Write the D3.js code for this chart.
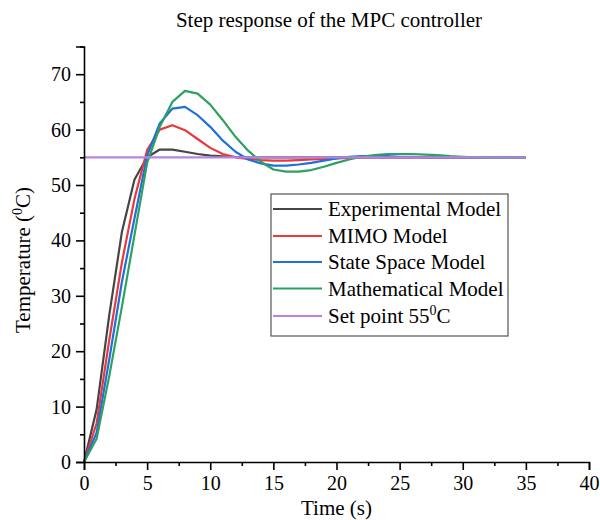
<!DOCTYPE html>
<html><head><meta charset="utf-8">
<script src="https://cdn.jsdelivr.net/npm/d3@7"></script>
<style>body{margin:0;background:#fff}svg{display:block}text{font-family:"Liberation Serif","Times New Roman",serif;fill:#000}</style>
</head><body>
<script>
const time = d3.range(0, 36);
const experimental = [0,9.5,26.5,41.5,51,55,56.4,56.4,56,55.6,55.3,55.15,55.05,55,55,55,55,55,55,55,55,55,55,55,55,55,55,55,55,55,55,55,55,55,55,55];
const mimo = [0,7,22,36,47.5,56.3,60,60.8,59.9,58.3,56.7,55.6,55,54.7,54.5,54.4,54.4,54.5,54.6,54.7,54.8,54.9,55,55,55,55,55,55,55,55,55,55,55,55,55,55];
const stateSpace = [0,5.3,18.5,32.5,44,55.3,61.1,63.8,64.1,62.6,60.5,58,56,54.6,53.9,53.5,53.5,53.7,54,54.4,54.8,55.1,55.2,55.2,55.2,55.1,55.1,55,55,55,55,55,55,55,55,55];
const mathematical = [0,4.2,15.5,28,41,54,60.5,65,67,66.5,64.5,61.7,58.7,56.2,54.2,52.8,52.4,52.4,52.7,53.3,54,54.6,55.1,55.4,55.6,55.6,55.6,55.5,55.4,55.2,55.1,55,54.9,54.9,54.9,54.9];
const setPoint = time.map(() => 55);
const seriesNames = ["Experimental Model","MIMO Model","State Space Model","Mathematical Model","Set point 55"];
const seriesColors = ["#454545","#e8393d","#1f6fdc","#2ea05f","#b784e0"];
const xTicks = [0,5,10,15,20,25,30,35,40];
const yTicks = [0,10,20,30,40,50,60,70];

const W = 600, H = 520;
const svg = d3.select("body").append("svg").attr("width", W).attr("height", H);
const x = d3.scaleLinear().domain([0, 40]).range([84, 589]);
const y = d3.scaleLinear().domain([0, 75]).range([462, 46.5]);

const allSeries = [experimental, mimo, stateSpace, mathematical, setPoint];
const line = d3.line().x((d, i) => x(time[i])).y(d => y(d));
[0,1,2,3,4].forEach(k => {
  svg.append("path").datum(allSeries[k]).attr("d", line)
    .attr("fill", "none").attr("stroke", seriesColors[k]).attr("stroke-width", 2.2)
    .attr("stroke-linejoin", "round");
});

// axes
svg.append("g").attr("transform", `translate(0,${y(0)})`)
  .call(d3.axisBottom(x).tickValues(xTicks).tickSize(8).tickPadding(6).tickFormat(d3.format("d")));
svg.append("g").attr("transform", `translate(0,${y(0)})`)
  .call(d3.axisBottom(x).tickValues(d3.range(2.5, 40, 5)).tickSize(4).tickFormat(""))
  .call(g => g.select(".domain").remove());
svg.append("g").attr("transform", `translate(${x(0)},0)`)
  .call(d3.axisLeft(y).tickValues(yTicks).tickSize(8).tickPadding(5).tickFormat(d3.format("d")));
svg.append("g").attr("transform", `translate(${x(0)},0)`)
  .call(d3.axisLeft(y).tickValues(d3.range(5, 80, 10)).tickSize(4).tickFormat(""))
  .call(g => g.select(".domain").remove());
svg.selectAll(".domain").attr("stroke", "#000").attr("stroke-width", 1.6);
svg.selectAll(".tick line").attr("stroke", "#000").attr("stroke-width", 1.6);
svg.selectAll(".tick text").style("font-family", "'Liberation Serif', serif").style("font-size", "20px").attr("fill", "#000");

// title & axis titles
svg.append("text").attr("x", 329).attr("y", 27).attr("text-anchor", "middle")
  .style("font-size", "21px").text("Step response of the MPC controller");
svg.append("text").attr("x", x(20)).attr("y", 515).attr("text-anchor", "middle")
  .style("font-size", "21px").text("Time (s)");
const yl = svg.append("text").attr("transform", `translate(30,260) rotate(-90)`)
  .attr("text-anchor", "middle").style("font-size", "21px");
yl.append("tspan").text("Temperature (");
yl.append("tspan").attr("dy", -8).style("font-size", "14px").text("0");
yl.append("tspan").attr("dy", 8).text("C)");

// legend
const lg = svg.append("g");
lg.append("rect").attr("x", 271).attr("y", 194).attr("width", 237).attr("height", 142)
  .attr("fill", "#fff").attr("stroke", "#555").attr("stroke-width", 1.2);
const rowY = [209, 236, 262, 288.5, 316];
seriesNames.forEach((n, i) => {
  lg.append("line").attr("x1", 273).attr("x2", 322).attr("y1", rowY[i]).attr("y2", rowY[i])
    .attr("stroke", seriesColors[i]).attr("stroke-width", 2.2);
  const t = lg.append("text").attr("x", 328).attr("y", rowY[i] + 7).style("font-size", "21px");
  t.append("tspan").text(n);
  if (i === 4) {
    t.append("tspan").attr("dy", -8).style("font-size", "14px").text("0");
    t.append("tspan").attr("dy", 8).text("C");
  }
});
</script>
</body></html>
